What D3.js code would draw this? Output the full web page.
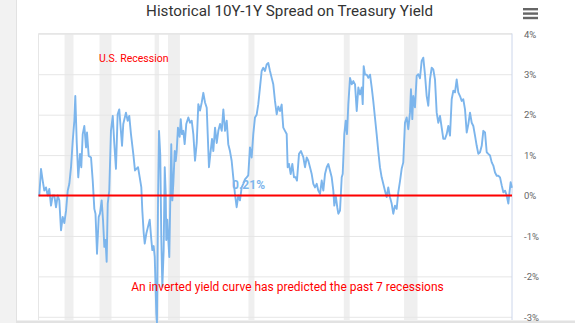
<!DOCTYPE html>
<html>
<head>
<meta charset="utf-8">
<script src="https://cdn.jsdelivr.net/npm/d3@7"></script>
<style>
  html, body { margin: 0; padding: 0; background: #ffffff; }
  svg { display: block; font-family: Roboto, "Open Sans", sans-serif; }
</style>
</head>
<body>
<svg id="chart" width="575" height="323"></svg>
<script>
// ---- Data ----
const chartTitle = "Historical 10Y-1Y Spread on Treasury Yield";
const yTicks = [4, 3, 2, 1, 0, -1, -2, -3];
const recStart = [1969.92, 1973.83, 1980.0, 1981.5, 1990.5, 2001.17, 2007.92];
const recEnd   = [1970.92, 1975.17, 1980.5, 1982.83, 1991.17, 2001.83, 2009.42];
const years = [
1967.09,1967.28,1967.47,1967.65,1967.84,1968.03,1968.21,1968.40,1968.59,1968.77,1968.96,1969.15,1969.33,1969.52,1969.71,1969.89,
1970.08,1970.27,1970.45,1970.64,1970.83,1971.01,1971.12,1971.28,1971.45,1971.65,1971.79,1971.95,1972.13,1972.32,1972.43,1972.62,1972.88,
1973.07,1973.25,1973.38,1973.55,1973.74,1973.88,1974.07,1974.22,1974.37,1974.50,1974.63,1974.75,1974.92,1975.11,1975.31,1975.48,1975.67,1975.86,
1976.04,1976.35,1976.49,1976.79,1976.98,1977.16,1977.35,1977.61,1977.80,1978.14,1978.33,1978.51,1978.62,1978.78,1978.89,1979.07,1979.26,1979.45,
1979.63,1979.74,1979.89,1980.01,1980.19,1980.26,1980.38,1980.49,1980.63,1980.75,1980.86,1981.01,1981.13,1981.24,1981.30,1981.42,1981.53,1981.64,
1981.75,1981.86,1981.98,1982.09,1982.25,1982.36,1982.47,1982.61,1982.80,1982.92,1983.06,1983.21,1983.36,1983.54,1983.77,1983.96,1984.15,1984.33,
1984.52,1984.71,1984.89,1985.08,1985.27,1985.45,1985.64,1985.83,1985.94,1986.08,1986.27,1986.42,1986.57,1986.76,1986.95,1987.13,1987.32,1987.51,
1987.69,1987.88,1988.07,1988.24,1988.43,1988.62,1988.80,1988.99,1989.18,1989.36,1989.55,1989.74,1989.92,1990.11,1990.30,1990.48,1990.67,1990.86,
1991.04,1991.23,1991.42,1991.60,1991.79,1991.98,1992.16,1992.35,1992.54,1992.72,1992.91,1993.10,1993.28,1993.47,1993.66,1993.84,1994.03,1994.22,
1994.29,1994.40,1994.59,1994.78,1994.89,1995.04,1995.23,1995.41,1995.60,1995.79,1995.93,1996.16,1996.38,1996.64,1996.83,1997.02,1997.20,1997.39,
1997.58,1997.76,1997.95,1998.14,1998.32,1998.51,1998.70,1998.88,1999.07,1999.26,1999.44,1999.63,1999.82,2000.00,2000.11,2000.27,2000.44,2000.56,
2000.75,2000.94,2001.05,2001.23,2001.39,2001.53,2001.68,2001.87,2002.06,2002.24,2002.43,2002.62,2002.80,2002.99,2003.18,2003.29,2003.40,2003.55,
2003.74,2003.92,2004.11,2004.30,2004.47,2004.66,2004.85,2005.03,2005.22,2005.41,2005.59,2005.78,2005.97,2006.15,2006.34,2006.53,2006.71,2006.90,
2007.09,2007.27,2007.46,2007.65,2007.83,2008.02,2008.21,2008.39,2008.58,2008.69,2008.84,2008.95,2009.14,2009.33,2009.51,2009.70,2009.89,2010.07,
2010.26,2010.45,2010.63,2010.82,2011.01,2011.19,2011.38,2011.57,2011.75,2011.94,2012.13,2012.31,2012.50,2012.69,2012.87,2013.06,2013.25,2013.43,
2013.62,2013.81,2013.99,2014.18,2014.37,2014.55,2014.74,2014.93,2015.11,2015.30,2015.49,2015.67,2015.86,2016.05,2016.23,2016.42,2016.61,2016.79,
2016.98,2017.17,2017.35,2017.54,2017.73,2017.91,2018.10,2018.29,2018.47,2018.66,2018.85,2019.03,2019.22,2019.41,2019.59,2019.72,2019.85,2019.97
];
const spread = [
0.0,0.66,0.37,0.12,0.2,0.0,0.16,-0.25,0.0,0.0,-0.29,0.0,-0.12,-0.86,-0.53,-0.68,
-0.38,0.12,0.29,0.7,1.35,1.85,2.46,1.31,0.45,1.03,0.7,1.52,1.72,1.19,1.56,0.98,0.94,
0.37,-0.33,-0.45,-1.44,-0.53,-0.45,-0.12,-0.6,-1.27,-1.1,-1.64,-0.2,0.12,1.6,1.97,1.3,0.66,2.01,
2.13,1.23,1.77,2.05,1.85,1.97,1.52,1.03,0.62,0.7,0.45,0.2,-0.37,-0.94,-1.19,-0.94,-0.77,-0.6,
-1.1,-1.35,-1.25,-1.52,-2.92,-3.15,-0.12,1.6,1.0,-1.1,-2.26,-1.35,0.7,0.04,-1.1,-0.6,-1.1,-1.52,
-0.12,1.27,-0.12,0.29,1.1,0.85,1.1,1.68,1.45,1.89,1.52,1.6,1.27,1.77,1.93,1.8,1.85,1.52,
0.86,1.3,2.26,2.1,2.3,2.54,2.3,2.17,1.52,0.7,1.1,1.4,1.1,1.68,1.3,1.6,1.77,1.6,
2.13,1.6,1.85,1.27,1.1,0.86,0.45,0.04,-0.29,0.0,-0.12,0.2,0.29,0.4,0.45,0.5,1.19,0.94,
1.52,1.93,2.0,2.26,2.67,3.08,3.16,3.08,3.24,3.28,3.08,2.91,2.75,2.34,2.01,2.2,2.09,2.25,
2.0,1.68,1.6,1.52,0.7,0.78,0.53,0.78,0.45,0.45,0.37,1.03,1.1,0.95,0.7,0.94,0.86,0.7,
0.53,0.29,0.2,0.29,0.12,0.04,0.37,0.12,0.53,0.7,0.78,0.62,0.45,0.12,-0.25,0.0,-0.29,-0.45,
-0.37,0.45,0.53,1.52,1.85,1.52,2.26,2.91,2.75,2.83,2.75,2.09,2.67,2.5,2.67,2.26,3.2,2.99,
2.99,2.91,2.99,2.67,2.34,1.93,1.52,1.1,0.7,0.45,0.29,0.12,-0.04,0.2,-0.04,-0.2,-0.45,-0.25,
-0.33,0.08,0.35,0.66,0.82,1.8,1.93,1.64,2.05,2.63,1.89,2.46,2.18,2.96,3.0,2.9,3.33,3.41,
2.99,2.46,2.22,2.87,3.16,3.12,2.87,2.05,1.8,1.97,1.68,1.4,1.4,1.52,1.72,1.48,2.38,2.59,
2.55,2.87,2.55,2.46,2.34,2.38,2.13,1.56,1.76,2.05,1.8,1.72,1.48,1.23,1.03,1.07,1.23,1.6,
1.56,1.07,1.03,0.99,0.82,0.74,0.57,0.49,0.49,0.45,0.25,0.08,0.12,0.0,-0.2,0.08,0.33,0.21
];
const lastLabel = "0.21%";
const recessionLabel = "U.S. Recession";
const noteLabel = "An inverted yield curve has predicted the past 7 recessions";

// ---- Layout ----
const W = 575, H = 323;
const plot = { left: 38.5, right: 512, top: 33.5, bottom: 320 };
const svg = d3.select("#chart");

const x = d3.scaleLinear().domain([1967, 2020]).range([plot.left, plot.right]);
const y = d3.scaleLinear().domain([-3, 4]).range([316.8, 33.8]);

// sidebar strip
svg.append("rect").attr("x", 0).attr("y", 0).attr("width", 16).attr("height", H).attr("fill", "#f2f2f2");
svg.append("line").attr("x1", 16.5).attr("x2", 16.5).attr("y1", 0).attr("y2", H).attr("stroke", "#e2e2e2");

// bottom strip
svg.append("rect").attr("x", 17).attr("y", 320.5).attr("width", W - 17).attr("height", 3).attr("fill", "#e2e2e2");

// title
svg.append("text").attr("x", 289.5).attr("y", 15.5).attr("text-anchor", "middle")
  .attr("font-size", 15.2).attr("fill", "#333333").text(chartTitle);

// hamburger menu
const menuG = svg.append("g").attr("fill", "#666666");
[8, 12.4, 16.8].forEach(yy => menuG.append("rect").attr("x", 523).attr("y", yy).attr("width", 15).attr("height", 2.4));

// recession bands
svg.append("g").selectAll("rect").data(recStart).join("rect")
  .attr("x", (d) => x(d))
  .attr("width", (d, i) => x(recEnd[i]) - x(d))
  .attr("y", plot.top).attr("height", plot.bottom - plot.top)
  .attr("fill", "#efefef");

// gridlines + right axis labels
const yAxis = d3.axisRight(y).tickValues(yTicks).tickSize(-(plot.right - plot.left))
  .tickFormat(d => d + "%");
const ga = svg.append("g").attr("transform", `translate(${plot.right},0)`).call(yAxis);
ga.select(".domain").remove();
ga.selectAll(".tick line").attr("stroke", "#e6e6e6").attr("stroke-width", 1);
ga.selectAll(".tick text").attr("x", 12).attr("dy", "0.35em")
  .attr("fill", "#666666").attr("font-size", 9.5).attr("font-family", "Roboto, sans-serif");

// plot border
svg.append("line").attr("x1", plot.left).attr("x2", plot.left).attr("y1", plot.top).attr("y2", plot.bottom).attr("stroke", "#e6e6e6");
svg.append("line").attr("x1", plot.left).attr("x2", plot.right).attr("y1", plot.top).attr("y2", plot.top).attr("stroke", "#e6e6e6");
svg.append("line").attr("x1", plot.right).attr("x2", plot.right).attr("y1", plot.top).attr("y2", plot.bottom).attr("stroke", "#ccd6eb");

// series line
const line = d3.line().x((d, i) => x(years[i])).y(d => y(d)).curve(d3.curveLinear);
svg.append("path").datum(spread).attr("d", line)
  .attr("fill", "none").attr("stroke", "#7cb5ec").attr("stroke-width", 1.9)
  .attr("stroke-linejoin", "round").attr("stroke-linecap", "round");

// zero line
svg.append("line").attr("x1", plot.left).attr("x2", plot.right).attr("y1", y(0)).attr("y2", y(0))
  .attr("stroke", "#ff0000").attr("stroke-width", 2);

// labels
svg.append("text").attr("x", 99).attr("y", 62).attr("font-size", 10.5).attr("fill", "#ff0000").text(recessionLabel);
svg.append("text").attr("x", 232).attr("y", 188.5).attr("font-size", 12).attr("font-weight", "bold")
  .attr("fill", "#7cb5ec").text(lastLabel);
svg.append("text").attr("x", 287.5).attr("y", 291).attr("text-anchor", "middle")
  .attr("font-size", 12).attr("fill", "#ff0000").text(noteLabel);
</script>
</body>
</html>
